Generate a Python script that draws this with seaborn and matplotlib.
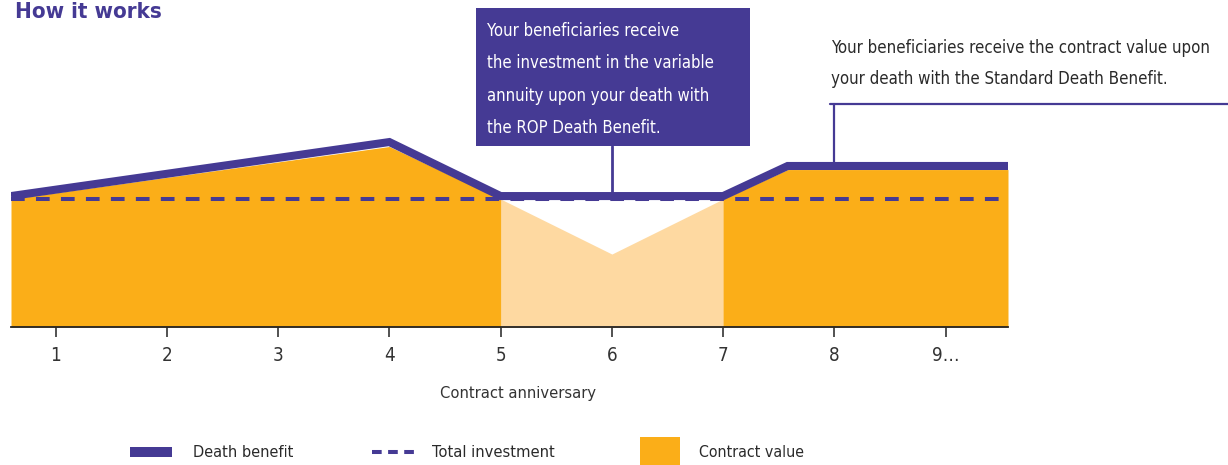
import matplotlib
matplotlib.use("Agg")
import matplotlib.pyplot as plt
import matplotlib.font_manager as fm
import seaborn as sns
import pandas as pd
import numpy as np
from matplotlib.lines import Line2D
from matplotlib.patches import Rectangle

# ---- data ----
anniv_ticks = [1, 2, 3, 4, 5, 6, 7, 8, 9]
tick_labels = ["1", "2", "3", "4", "5", "6", "7", "8", "9…"]
cv_x = [0.6, 4, 5, 6, 7, 7.58, 9.56]
cv_y = [100, 141, 100, 57, 100, 123, 123]
db_x = [0.6, 4, 5, 7, 7.58, 9.56]
db_y = [102.3, 144.5, 102.3, 102.3, 125.8, 125.8]
inv_x = [0.6, 9.56]
inv_y = [100, 100]
rop_start, rop_end = 5, 7

PURPLE = "#453a94"
ORANGE = "#fbae18"
LIGHT = "#fed9a1"

sns.set_theme(style="white")

# pick a condensed font if one is installed
FAMILY, STRETCH = "DejaVu Sans", "normal"
for fam, st in [("Liberation Sans Narrow", "normal"), ("DejaVu Sans", "condensed"),
                ("Open Sans", "condensed"), ("Roboto", "condensed"), ("Noto Sans", "condensed")]:
    try:
        p = fm.findfont(fm.FontProperties(family=fam, stretch=st), fallback_to_default=False)
        name = p.lower()
        if "narrow" in name or "condensed" in name or "cond" in name:
            FAMILY, STRETCH = fam, st
            break
    except Exception:
        pass
plt.rcParams["font.family"] = [FAMILY, "DejaVu Sans"]
plt.rcParams["font.stretch"] = STRETCH

W, H = 1228, 465
fig = plt.figure(figsize=(W / 100, H / 100), dpi=100)
ax = fig.add_axes([11 / W, (H - 327) / H, (1008 - 11) / W, 327 / H])
ax.set_xlim(0.6, 9.56)
ax.set_ylim(0, 327 / 1.28)

cx = np.array(cv_x, dtype=float)
cy = np.array(cv_y, dtype=float)
ax.fill_between(cx, 0, cy, where=(cx <= rop_start), color=ORANGE, lw=0, interpolate=True)
ax.fill_between(cx, 0, cy, where=(cx >= rop_end), color=ORANGE, lw=0, interpolate=True)
ax.fill_between(cx, 0, cy, where=(cx >= rop_start) & (cx <= rop_end), color=LIGHT, lw=0, interpolate=True)

inv = pd.DataFrame({"x": inv_x, "y": inv_y})
sns.lineplot(data=inv, x="x", y="y", ax=ax, color=PURPLE, lw=2.9,
             linestyle=(0, (3.4, 2.8)), zorder=3)
db = pd.DataFrame({"x": db_x, "y": db_y})
sns.lineplot(data=db, x="x", y="y", ax=ax, color=PURPLE, lw=5.8,
             solid_joinstyle="miter", solid_capstyle="butt", zorder=4)

for s in ["top", "right", "left"]:
    ax.spines[s].set_visible(False)
ax.spines["bottom"].set_color("#222222")
ax.spines["bottom"].set_linewidth(1.3)
ax.set_yticks([])
ax.set_xticks(anniv_ticks)
ax.set_xticklabels(tick_labels, fontsize=13.5, color="#333333")
ax.tick_params(axis="x", direction="out", length=7, width=1.1, color="#222222", pad=7, bottom=True)
ax.set_xlabel("")
ax.set_ylabel("")

renderer = fig.canvas.get_renderer()


def fit_text(x, y, s, width_px, **kw):
    t = fig.text(x / W, 1 - y / H, s, fontsize=14, **kw)
    w = t.get_window_extent(renderer).width
    t.set_fontsize(min(16.5, 14 * width_px / w))
    return t


# x label
fit_text(518, 393, "Contract anniversary", 156, color="#333333", ha="center", va="center")

# ---- title (top-left, kept fully visible) ----
fig.text(15 / W, 1 - 2 / H, "How it works", fontsize=16, fontweight="bold",
         color=PURPLE, ha="left", va="top", family=["DejaVu Sans"])

# ---- callout 1 (ROP) ----
box = Rectangle((476 / W, 1 - 146 / H), (750 - 476) / W, (146 - 8) / H,
                transform=fig.transFigure, color=PURPLE, lw=0, zorder=5)
fig.add_artist(box)
lines1 = ["Your beneficiaries receive", "the investment in the variable",
          "annuity upon your death with", "the ROP Death Benefit."]
t0 = fit_text(487, 31, lines1[1], 228, color="white", ha="left", va="center", zorder=6)
fs1 = t0.get_fontsize()
t0.remove()
for i, t in enumerate(lines1):
    fig.text(487 / W, 1 - (31 + i * 32.3) / H, t, fontsize=fs1, color="white",
             ha="left", va="center", zorder=6)
ax.plot([6, 6], [db_y[2], 327 / 1.28 - 146 / 1.28], color=PURPLE, lw=2, zorder=3, clip_on=False)

# ---- callout 2 (standard) ----
lines2 = ["Your beneficiaries receive the contract value upon",
          "your death with the Standard Death Benefit."]
t0 = fit_text(831, 48, lines2[0], 381, color="#2a2a2a", ha="left", va="center")
fs2 = t0.get_fontsize()
fig.text(831 / W, 1 - 79 / H, lines2[1], fontsize=fs2, color="#2a2a2a", ha="left", va="center")
ytop = (327 - 104) / 1.28
ax.plot([8, 8], [db_y[-1], ytop], color=PURPLE, lw=1.6, zorder=3, clip_on=False)
fig.add_artist(Line2D([830 / W, 1.0], [1 - 104 / H, 1 - 104 / H], transform=fig.transFigure,
                      color=PURPLE, lw=1.6))

# ---- legend ----
ly = 452
fig.add_artist(Rectangle((130 / W, 1 - 457 / H), 42 / W, 10 / H, transform=fig.transFigure,
                         color=PURPLE, lw=0))
fit_text(193, ly, "Death benefit", 101, color="#2a2a2a", va="center")
fig.add_artist(Line2D([372 / W, 414 / W], [1 - ly / H, 1 - ly / H], transform=fig.transFigure,
                      color=PURPLE, lw=2.9, linestyle=(0, (2.4, 1.6))))
fit_text(432, ly, "Total investment", 123, color="#2a2a2a", va="center")
fig.add_artist(Rectangle((640 / W, 1 - 465 / H), 40 / W, 28 / H, transform=fig.transFigure,
                         color=ORANGE, lw=0))
fit_text(699, ly, "Contract value", 106, color="#2a2a2a", va="center")

fig.savefig("out.png", dpi=100)
